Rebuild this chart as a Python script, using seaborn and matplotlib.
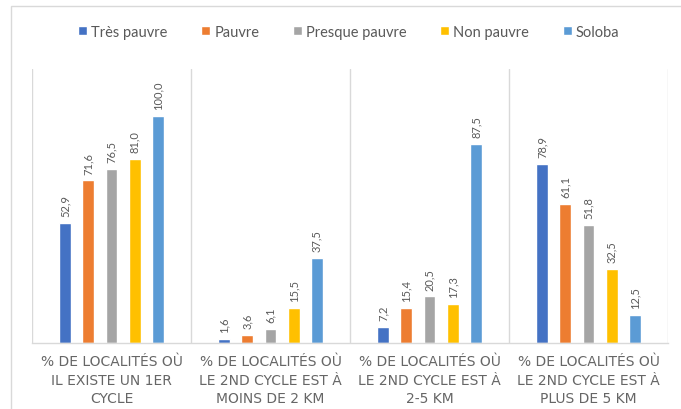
import matplotlib
matplotlib.use("Agg")
import matplotlib.pyplot as plt
from matplotlib.patches import Rectangle
import seaborn as sns
import pandas as pd

categories = [
    "% DE LOCALITÉS OÙ\nIL EXISTE UN 1ER\nCYCLE",
    "% DE LOCALITÉS OÙ\nLE 2ND CYCLE EST À\nMOINS DE 2 KM",
    "% DE LOCALITÉS OÙ\nLE 2ND CYCLE EST À\n2-5 KM",
    "% DE LOCALITÉS OÙ\nLE 2ND CYCLE EST À\nPLUS DE 5 KM",
]
groups = ["Très pauvre", "Pauvre", "Presque pauvre", "Non pauvre", "Soloba"]
tres_pauvre = [52.9, 1.6, 7.2, 78.9]
pauvre = [71.6, 3.6, 15.4, 61.1]
presque_pauvre = [76.5, 6.1, 20.5, 51.8]
non_pauvre = [81.0, 15.5, 17.3, 32.5]
soloba = [100.0, 37.5, 87.5, 12.5]
colors = ["#4472C4", "#ED7D31", "#A5A5A5", "#FFC000", "#5B9BD5"]

series = [tres_pauvre, pauvre, presque_pauvre, non_pauvre, soloba]
rows = []
for g, vals in zip(groups, series):
    for c, v in zip(categories, vals):
        rows.append({"categorie": c, "groupe": g, "valeur": v})
df = pd.DataFrame(rows)

sns.set_theme(style="white")
plt.rcParams["font.family"] = ["Lato", "DejaVu Sans"]
text_color = "#595959"
grid_color = "#D9D9D9"

fig = plt.figure(figsize=(6.81, 4.10), dpi=100)
ax = fig.add_axes([32 / 681, 1 - 344 / 410, 636 / 681, 274 / 410])

sns.barplot(data=df, x="categorie", y="valeur", hue="groupe",
            order=categories, hue_order=groups, palette=colors,
            width=0.73, gap=0.5, saturation=1, ax=ax, legend=True)

for container in ax.containers:
    ax.bar_label(container, labels=[f"{b.get_height():.1f}".replace(".", ",")
                                    for b in container],
                 rotation=90, padding=5, fontsize=8, color=text_color)

ax.set_ylim(0, 120.7)
ax.set_xlim(-0.5, len(categories) - 0.5)
ax.set_yticks([])
ax.set_xlabel("")
ax.set_ylabel("")
for x in [-0.5, 0.5, 1.5, 2.5, 3.5]:
    ax.axvline(x, color=grid_color, lw=1, zorder=0)
for s in ["top", "left", "right"]:
    ax.spines[s].set_visible(False)
ax.spines["bottom"].set_color(grid_color)
ax.spines["bottom"].set_linewidth(1)
ax.tick_params(axis="x", length=0, pad=8)
ax.set_xticks(range(len(categories)))
ax.set_xticklabels(categories, fontsize=10, color="#666666",
                   family=["DejaVu Sans"], linespacing=1.4)

handles, labels = ax.get_legend_handles_labels()
ax.get_legend().remove()
fig.legend(handles, labels, loc="center", bbox_to_anchor=(349 / 681, 1 - 33 / 410),
           ncol=5, frameon=False, fontsize=10.5, labelcolor=text_color,
           handlelength=0.6, handleheight=0.6, handletextpad=0.3, columnspacing=2.3)

# chart area frame
fig.patches.append(Rectangle((11 / 681, -0.1), 1.2, 1 - 7 / 410 + 0.1,
                             transform=fig.transFigure, fill=False,
                             edgecolor=grid_color, lw=1))

fig.savefig("out.png", dpi=100, facecolor="white")
